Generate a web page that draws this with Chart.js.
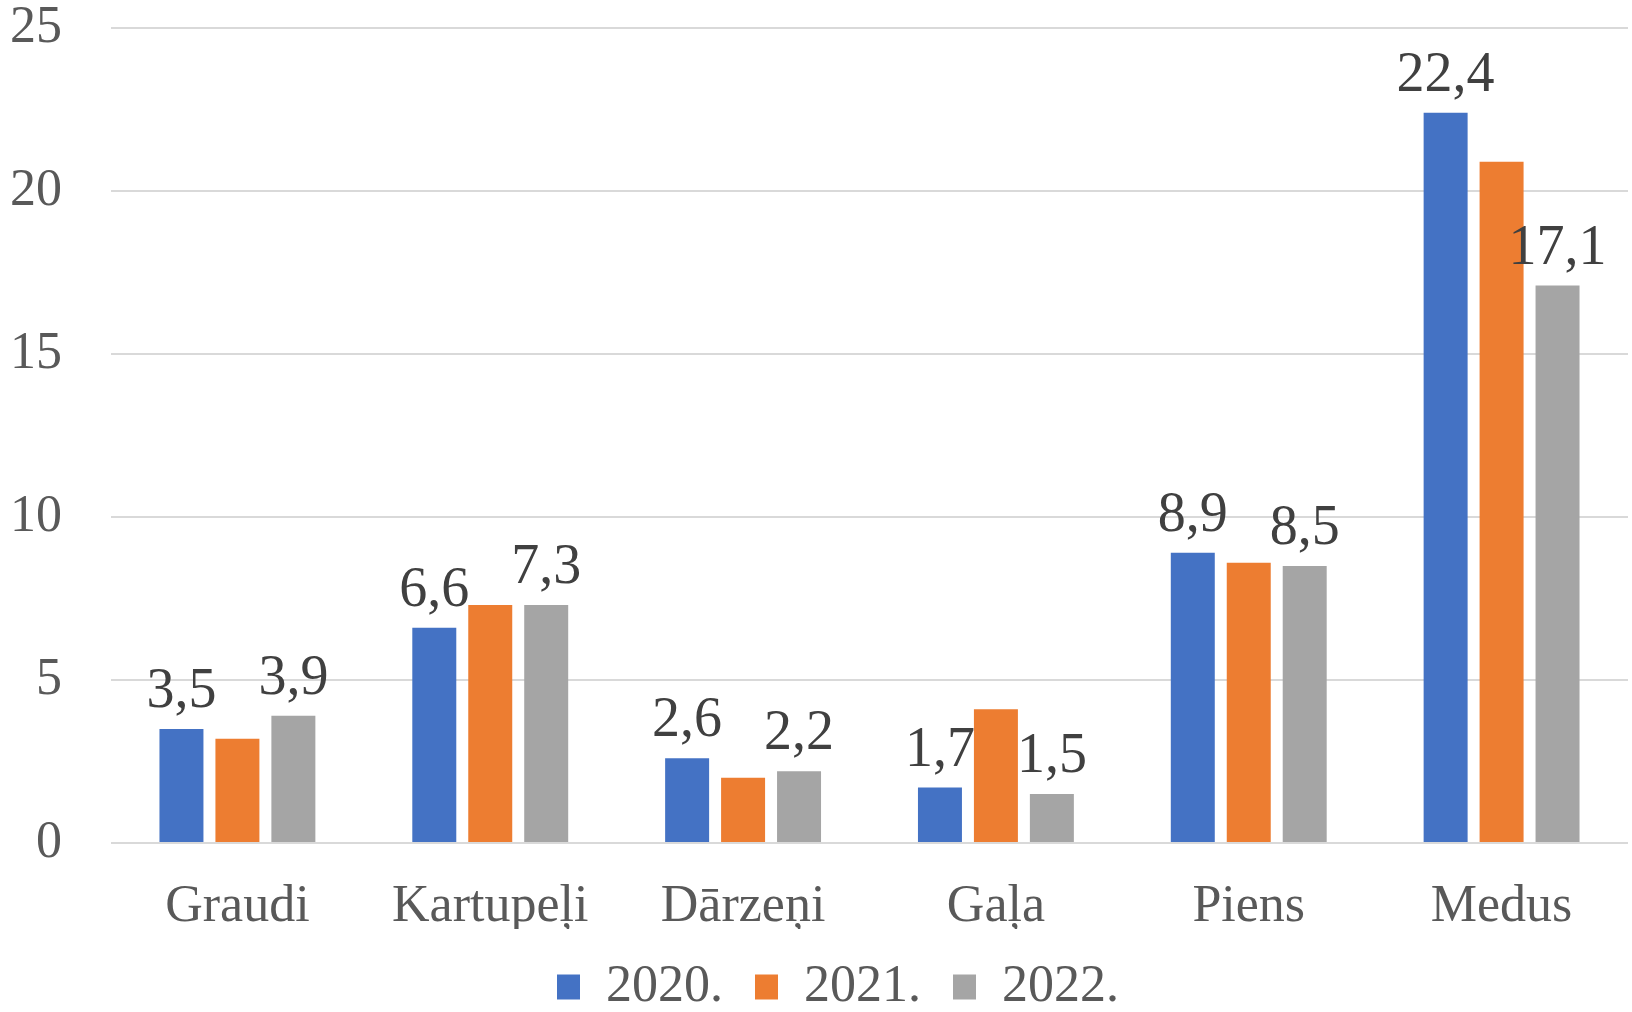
<!DOCTYPE html>
<html>
<head>
<meta charset="utf-8">
<script src="https://cdn.jsdelivr.net/npm/chart.js@4.4.1/dist/chart.umd.min.js"></script>
<style>
  html, body { margin: 0; padding: 0; background: #fff; }
  #wrap { width: 1632px; height: 1012px; position: relative; }
</style>
</head>
<body>
<div id="wrap"><canvas id="chart"></canvas></div>
<script>
const categories = ['Graudi', 'Kartupeļi', 'Dārzeņi', 'Gaļa', 'Piens', 'Medus'];
const years = ['2020.', '2021.', '2022.'];
const values2020 = [3.5, 6.6, 2.6, 1.7, 8.9, 22.4];
const values2021 = [3.2, 7.3, 2.0, 4.1, 8.6, 20.9];
const values2022 = [3.9, 7.3, 2.2, 1.5, 8.5, 17.1];
const yTicks = [0, 5, 10, 15, 20, 25];
const showValues = [true, false, true];

const colors = ['#4472C4', '#ED7D31', '#A5A5A5'];
const serif = '"Liberation Serif", "Times New Roman", serif';

// value labels above the bars (no datalabels plugin available offline)
const valueLabels = {
    id: 'valueLabels',
    afterLayout(chart) {
        // legend in the original sits a bit right of the canvas centre
        chart.legend.left += 18;
        chart.legend.right += 18;
    },
    afterDatasetsDraw(chart) {
        const c = chart.ctx;
        c.save();
        c.font = '56px ' + serif;
        c.fillStyle = '#404040';
        c.textAlign = 'center';
        c.textBaseline = 'alphabetic';
        chart.data.datasets.forEach((ds, i) => {
            if (!showValues[i]) return;
            chart.getDatasetMeta(i).data.forEach((bar, j) => {
                const txt = ds.data[j].toFixed(1).replace('.', ',');
                c.fillText(txt, bar.x, bar.y - 22);
            });
        });
        c.restore();
    }
};

const seriesData = [values2020, values2021, values2022];

new Chart(document.getElementById('chart'), {
    type: 'bar',
    data: {
        labels: categories,
        datasets: years.map((y, i) => ({
            label: y,
            data: seriesData[i],
            backgroundColor: colors[i],
            categoryPercentage: 0.664,
            barPercentage: 0.786
        }))
    },
    options: {
        responsive: true,
        maintainAspectRatio: false,
        animation: false,
        layout: { padding: { left: 12, right: 4, top: 0, bottom: -11 } },
        plugins: {
            tooltip: { enabled: false },
            legend: {
                position: 'bottom',
                labels: {
                    boxWidth: 23,
                    boxHeight: 25,
                    padding: 32,
                    color: '#595959',
                    font: { family: serif, size: 52 }
                }
            }
        },
        scales: {
            x: {
                grid: { display: false },
                border: { display: false },
                afterFit: (axis) => { axis.height = 86; },
                ticks: {
                    color: '#595959',
                    padding: 25,
                    maxRotation: 0,
                    font: { family: serif, size: 52 }
                }
            },
            y: {
                min: 0,
                max: 25,
                afterBuildTicks: (axis) => { axis.ticks = yTicks.map(v => ({ value: v })); },
                afterFit: (axis) => {
                    axis.width = 99;
                    axis.paddingTop = 28;
                    axis.paddingBottom = 0;
                },
                grid: { color: '#D9D9D9', lineWidth: 2, drawTicks: false },
                border: { display: false },
                ticks: {
                    color: '#595959',
                    padding: 49,
                    font: { family: serif, size: 52 }
                }
            }
        }
    },
    plugins: [valueLabels]
});
</script>
</body>
</html>
